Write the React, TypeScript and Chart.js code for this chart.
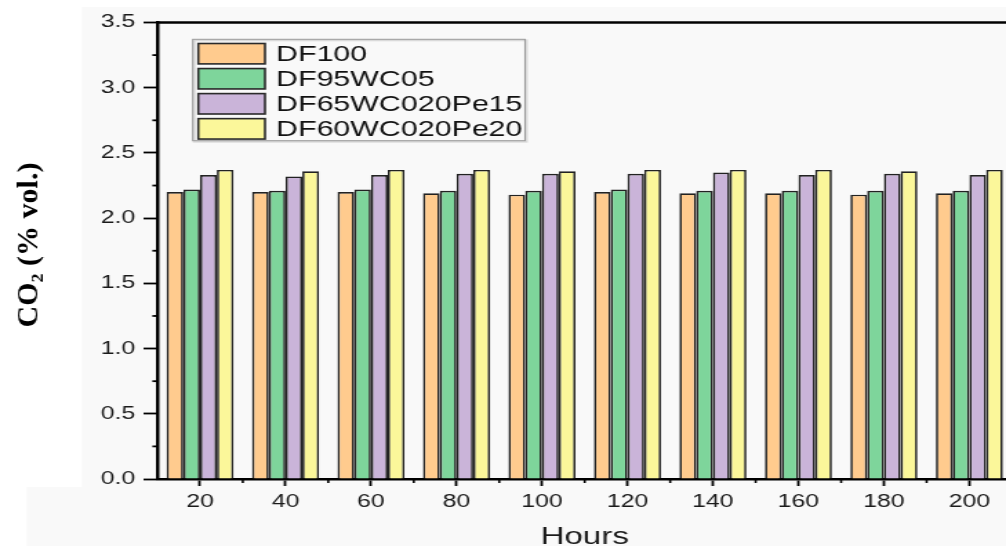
import React, { useEffect, useRef } from 'react';
import { Chart, registerables } from 'chart.js';

Chart.register(...registerables);

// ---- data ----
const hours = ['20', '40', '60', '80', '100', '120', '140', '160', '180', '200'];
const seriesNames = ['DF100', 'DF95WC05', 'DF65WC020Pe15', 'DF60WC020Pe20'];
const df100 = [2.20, 2.20, 2.20, 2.19, 2.18, 2.20, 2.19, 2.19, 2.18, 2.19];
const df95wc05 = [2.22, 2.21, 2.22, 2.21, 2.21, 2.22, 2.21, 2.21, 2.21, 2.21];
const df65wc020pe15 = [2.33, 2.32, 2.33, 2.34, 2.34, 2.34, 2.35, 2.33, 2.34, 2.33];
const df60wc020pe20 = [2.37, 2.36, 2.37, 2.37, 2.36, 2.37, 2.37, 2.37, 2.36, 2.37];
const seriesColors = ['#FFCB8E', '#7ED59B', '#CAB4D9', '#FBF79A'];
const yMin = 0;
const yMax = 3.5;
const yStep = 0.5;
const xTitle = 'Hours';
const yTitle = 'CO₂ (% vol.)';

// ---- layout (horizontal stretch of the whole picture) ----
const S = 1.38;
const NATIVE_W = 760;
const H = 546;
const SANS = '"Liberation Sans", Arial, sans-serif';

const bgPlugin = {
  id: 'bgPlugin',
  beforeDraw(chart: any) {
    const ctx = chart.ctx;
    ctx.save();
    ctx.fillStyle = '#f9f9f9';
    ctx.fillRect(0, 0, chart.width, chart.height);
    ctx.fillStyle = '#ffffff';
    ctx.fillRect(0, 0, chart.width, 7);
    ctx.fillRect(0, 7, 82 / S, 480);
    ctx.fillRect(0, 487, 27 / S, 59);
    ctx.restore();
  },
};

const framePlugin = {
  id: 'framePlugin',
  afterDraw(chart: any) {
    const ctx = chart.ctx;
    const { left, right, top, bottom } = chart.chartArea;
    const xs = chart.scales.x;
    const ys = chart.scales.y;
    ctx.save();
    ctx.strokeStyle = '#000';
    // top frame line
    ctx.lineWidth = 2.5;
    ctx.beginPath();
    ctx.moveTo(left, top);
    ctx.lineTo(right, top);
    ctx.stroke();
    // y minor ticks
    ctx.lineWidth = 1.8;
    for (let v = yMin + yStep / 2; v < yMax; v += yStep) {
      const y = ys.getPixelForValue(v);
      ctx.beginPath();
      ctx.moveTo(left - 3.6, y);
      ctx.lineTo(left, y);
      ctx.stroke();
    }
    // x minor ticks (between categories)
    ctx.lineWidth = 1.6;
    for (let i = 1; i <= hours.length; i++) {
      const x = (xs.getPixelForValue(i - 1) + xs.getPixelForValue(i)) / 2;
      ctx.beginPath();
      ctx.moveTo(x, bottom);
      ctx.lineTo(x, bottom + 4);
      ctx.stroke();
    }
    ctx.restore();
  },
};

const legendPlugin = {
  id: 'legendPlugin',
  afterDraw(chart: any) {
    const ctx = chart.ctx;
    const { left, top } = chart.chartArea;
    const bx = left + 25.65;
    const by = top + 16.8;
    const bw = 240.8;
    const bh = 101.4;
    ctx.save();
    // shadow
    ctx.strokeStyle = 'rgba(0,0,0,0.12)';
    ctx.lineWidth = 2;
    ctx.strokeRect(bx + 1, by + 1, bw, bh);
    ctx.strokeStyle = '#9a9a9a';
    ctx.lineWidth = 1;
    ctx.strokeRect(bx, by, bw, bh);
    const pitch = 25.05;
    chart.data.datasets.forEach((ds: any, i: number) => {
      const cy = by + 14.4 + i * pitch;
      ctx.fillStyle = ds.backgroundColor;
      ctx.fillRect(bx + 4.06, cy - 10.2, 48.3, 20.4);
      ctx.strokeStyle = '#2a2a2a';
      ctx.lineWidth = 1.6;
      ctx.strokeRect(bx + 4.06, cy - 10.2, 48.3, 20.4);
      ctx.fillStyle = '#111';
      ctx.font = `22px ${SANS}`;
      ctx.textAlign = 'left';
      ctx.textBaseline = 'middle';
      ctx.fillText(ds.label, bx + 60.4, cy + 1);
    });
    ctx.restore();
  },
};

const yTitlePlugin = {
  id: 'yTitlePlugin',
  afterDraw(chart: any) {
    const ctx = chart.ctx;
    ctx.save();
    ctx.scale(1 / S, 1);
    ctx.translate(29, 245);
    ctx.rotate(-Math.PI / 2);
    ctx.font = 'bold 30px "Liberation Serif", "Times New Roman", serif';
    ctx.fillStyle = '#000';
    ctx.textAlign = 'center';
    ctx.textBaseline = 'middle';
    ctx.fillText(yTitle, 0, 0);
    ctx.restore();
  },
};

export default function App() {
  const ref = useRef<HTMLCanvasElement | null>(null);

  useEffect(() => {
    if (!ref.current) return;
    const values = [df100, df95wc05, df65wc020pe15, df60wc020pe20];
    const chart = new Chart(ref.current, {
      type: 'bar',
      data: {
        labels: hours,
        datasets: seriesNames.map((name, i) => ({
          label: name,
          data: values[i],
          backgroundColor: seriesColors[i],
          borderColor: '#222',
          borderWidth: 1.7,
          categoryPercentage: 0.784,
          barPercentage: 1,
        })),
      },
      options: {
        animation: false,
        responsive: false,
        devicePixelRatio: 1,
        layout: { padding: { left: 0, top: 22.5, right: NATIVE_W - 733.4, bottom: 0 } },
        plugins: {
          legend: { display: false },
          tooltip: { enabled: false },
        },
        scales: {
          x: {
            type: 'category',
            offset: true,
            grid: {
              offset: false,
              drawOnChartArea: false,
              drawTicks: true,
              tickLength: 7,
              tickWidth: 1.8,
              tickColor: '#000',
            },
            border: { display: true, color: '#000', width: 2.5 },
            ticks: {
              color: '#1a1a1a',
              font: { family: SANS, size: 18 },
              padding: 5,
              maxRotation: 0,
              autoSkip: false,
            },
            title: {
              display: true,
              text: xTitle,
              color: '#1a1a1a',
              font: { family: SANS, size: 24, lineHeight: 0.9 },
              padding: { top: 0, bottom: -2 },
            },
            afterFit: (s: any) => {
              s.height = H - 479;
            },
          },
          y: {
            min: yMin,
            max: yMax,
            ticks: {
              stepSize: yStep,
              callback: (v: any) => Number(v).toFixed(1),
              color: '#1a1a1a',
              font: { family: SANS, size: 18 },
              padding: 6,
            },
            grid: {
              drawOnChartArea: false,
              drawTicks: true,
              tickLength: 10,
              tickWidth: 1.8,
              tickColor: '#000',
            },
            border: { display: true, color: '#000', width: 2.5 },
            afterFit: (s: any) => {
              s.width = 114;
            },
          },
        },
      } as any,
      plugins: [bgPlugin, framePlugin, legendPlugin, yTitlePlugin],
    });
    return () => chart.destroy();
  }, []);

  return (
    <div
      style={{
        position: 'fixed',
        left: 0,
        top: 0,
        width: 1006,
        height: H,
        overflow: 'hidden',
        background: '#fff',
      }}
    >
      <div
        style={{
          width: NATIVE_W,
          height: H,
          transform: `scaleX(${S})`,
          transformOrigin: '0 0',
        }}
      >
        <canvas ref={ref} width={NATIVE_W} height={H} style={{ display: 'block' }} />
      </div>
    </div>
  );
}
